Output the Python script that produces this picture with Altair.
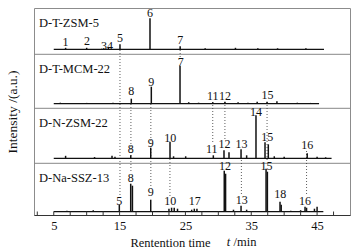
import altair as alt
import pandas as pd

# ---------------- data ----------------
PANELS = ["D-T-ZSM-5", "D-T-MCM-22", "D-N-ZSM-22", "D-Na-SSZ-13"]

# peak retention times (min) and heights (a.u.) per sample
ZSM5_T = [6.8, 10.0, 12.6, 13.3, 15.06, 19.62, 24.2, 28.0, 32.6, 36.0, 39.0, 43.3]
ZSM5_H = [1.5, 1.5, 1.0, 1.5, 5.0, 31.0, 3.0, 1.0, 1.5, 1.0, 1.0, 1.0]

MCM22_T = [6.0, 10.0, 14.0, 16.78, 19.82, 24.18, 25.5, 27.0, 29.15, 31.0, 33.0, 34.5,
           35.9, 37.4, 38.9, 42.0, 44.0]
MCM22_H = [1.0, 0.8, 1.0, 5.0, 17.0, 38.0, 1.5, 1.0, 1.5, 2.0, 1.5, 1.0,
           2.0, 2.0, 2.5, 1.0, 0.8]

NZSM22_T = [6.8, 11.2, 13.85, 14.3, 16.7, 19.73, 22.66, 23.2, 25.04, 29.24, 30.86, 31.62,
            33.45, 34.3, 35.72, 37.09, 37.59, 38.5, 40.0, 43.5, 45.0, 46.3]
NZSM22_H = [2.5, 1.2, 2.5, 1.5, 3.0, 10.6, 16.6, 2.0, 2.0, 3.0, 8.0, 6.0,
            9.0, 3.0, 43.0, 16.0, 14.0, 2.0, 1.5, 5.0, 1.5, 1.0]

SSZ13_T = [7.0, 11.0, 14.96, 16.69, 16.95, 19.73, 22.5, 22.9, 23.3, 23.8, 25.95, 26.35,
           26.75, 30.9, 31.1, 32.3, 33.45, 34.3, 37.25, 37.45, 39.37, 39.55, 41.0, 42.5,
           43.17, 43.4, 44.6, 45.0]
SSZ13_H = [1.0, 1.5, 7.0, 28.0, 26.0, 12.0, 3.0, 4.0, 4.0, 3.0, 2.0, 3.0,
           3.0, 41.0, 38.0, 2.0, 6.0, 2.0, 43.0, 40.0, 10.0, 7.0, 1.0, 1.5,
           5.0, 4.0, 3.0, 5.0]

RUN_START = [5.0, 5.0, 5.0, 5.0]
RUN_END = [46.05, 45.3, 47.2, 45.95]

# peak number labels: (text, time, level above baseline)
LAB_ZSM5 = [("1", 6.8, 7.3), ("2", 10.05, 8.0), ("34", 13.1, 3.5), ("5", 15.06, 11.0),
            ("6", 19.62, 36.5), ("7", 24.2, 9.8)]
LAB_MCM22 = [("8", 16.76, 13.2), ("9", 19.8, 21.5), ("7", 24.28, 42.0), ("11", 29.16, 8.0),
             ("12", 31.0, 8.0), ("15", 37.47, 8.4)]
LAB_NZSM22 = [("8", 16.7, 9.5), ("9", 19.75, 15.5), ("10", 22.7, 20.5), ("11", 29.0, 9.6),
              ("12", 30.94, 14.1), ("13", 33.5, 14.1), ("14", 35.72, 46.6), ("15", 37.42, 21.1),
              ("16", 43.5, 13.3)]
LAB_SSZ13 = [("5", 14.94, 10.3), ("8", 16.7, 33.7), ("9", 19.75, 20.0), ("10", 22.7, 10.3),
             ("17", 26.4, 10.7), ("12", 31.0, 45.3), ("13", 33.57, 11.5), ("15", 37.3, 45.3),
             ("18", 39.4, 17.8), ("16", 43.17, 10.7)]

# dotted guide lines: time, upper end, lower end (in stacked intensity units)
GUIDE_T = [15.06, 24.2, 16.72, 19.75, 22.65, 29.15, 31.0, 33.5, 37.4, 43.4]
GUIDE_TOP = [165.0, 165.0, 111.0, 111.0, 56.0, 113.0, 113.0, 55.0, 113.0, 64.0]
GUIDE_BOT = [18.0, 158.0, 42.0, 28.0, 19.0, 72.0, 76.0, 20.0, 55.0, 19.0]

X_TICK_LABELS = [5, 10, 15, 20, 25, 30, 35, 40, 45, 50]
X_MINOR = [2.5, 5, 7.5, 10, 12.5, 15, 17.5, 20, 22.5, 25, 27.5, 30, 32.5, 35, 37.5,
           40, 42.5, 45, 47.5]

# ---------------- layout constants ----------------
W, H = 316, 207
BASE = [165.7, 111.3, 56.7, 3.3]       # baseline of each stacked trace
PANEL_TOP = [207.0, 160.7, 106.7, 51.7]
SEPS = [160.7, 106.7, 51.7]
FONT = "Liberation Serif, Times New Roman, DejaVu Serif, serif"
INK = "#111111"

series = [(ZSM5_T, ZSM5_H), (MCM22_T, MCM22_H), (NZSM22_T, NZSM22_H), (SSZ13_T, SSZ13_H)]
labels = [LAB_ZSM5, LAB_MCM22, LAB_NZSM22, LAB_SSZ13]

peak_rows, base_rows, lab_rows, name_rows = [], [], [], []
for i, name in enumerate(PANELS):
    ts, hs = series[i]
    for t, h in zip(ts, hs):
        peak_rows.append({"t": t, "y0": BASE[i], "y1": BASE[i] + h})
    base_rows.append({"t0": RUN_START[i], "t1": RUN_END[i], "y": BASE[i]})
    for txt, t, lev in labels[i]:
        lab_rows.append({"txt": txt, "t": t, "y": BASE[i] + lev})
    name_rows.append({"name": name, "y": PANEL_TOP[i] - 15})

peaks = pd.DataFrame(peak_rows)
bases = pd.DataFrame(base_rows)
labs = pd.DataFrame(lab_rows)
names = pd.DataFrame(name_rows)
guides = pd.DataFrame({"t": GUIDE_T, "y0": GUIDE_TOP, "y1": GUIDE_BOT})
seps = pd.DataFrame({"y": SEPS})
ticks = pd.DataFrame({"t": X_MINOR, "y0": [0.0] * len(X_MINOR), "y1": [3.5] * len(X_MINOR)})

xs = alt.Scale(domain=[2, 50], nice=False, zero=False)
ys = alt.Scale(domain=[0, H], nice=False, zero=False)

xaxis = alt.Axis(values=X_TICK_LABELS, ticks=False, grid=False, domainColor="#333333",
                 labelFont=FONT, labelFontSize=12.5, labelColor=INK, labelPadding=4,
                 title="Rentention time", titleFont=FONT, titleFontSize=12.5,
                 titleFontWeight="normal", titleColor=INK, titleX=136, titleY=27,
                 titleBaseline="middle", titleAlign="center")
yaxis = alt.Axis(labels=False, ticks=False, grid=False, domain=False,
                 title="Intensity /(a.u.)", titleFont=FONT, titleFontSize=13.5,
                 titleFontWeight="normal", titleColor=INK, titleX=-22, titleY=H / 2,
                 titleAngle=270, titleBaseline="middle", titleAlign="center")

base_line = alt.Chart(bases).mark_rule(color=INK, strokeWidth=1.2).encode(
    x=alt.X("t0:Q", scale=xs, axis=xaxis), x2="t1:Q",
    y=alt.Y("y:Q", scale=ys, axis=yaxis))

peak_marks = alt.Chart(peaks).mark_rule(color=INK, strokeWidth=1.5).encode(
    x=alt.X("t:Q", scale=xs), y=alt.Y("y0:Q", scale=ys), y2="y1:Q")

sep_marks = alt.Chart(seps).mark_rule(color="#888888", strokeWidth=1).encode(
    y=alt.Y("y:Q", scale=ys))

guide_marks = alt.Chart(guides).mark_rule(color="#333333", strokeWidth=0.8,
                                          strokeDash=[1, 2]).encode(
    x=alt.X("t:Q", scale=xs), y=alt.Y("y0:Q", scale=ys), y2="y1:Q")

tick_marks = alt.Chart(ticks).mark_rule(color="#333333", strokeWidth=1).encode(
    x=alt.X("t:Q", scale=xs), y=alt.Y("y0:Q", scale=ys), y2="y1:Q")

lab_marks = alt.Chart(labs).mark_text(font=FONT, fontSize=12, color=INK,
                                      baseline="middle", align="center").encode(
    x=alt.X("t:Q", scale=xs), y=alt.Y("y:Q", scale=ys), text="txt:N")

name_marks = alt.Chart(names).mark_text(font=FONT, fontSize=12.5, color=INK,
                                        baseline="middle", align="left").encode(
    x=alt.value(5), y=alt.Y("y:Q", scale=ys), text="name:N")

one = pd.DataFrame({"a": [0]})
t_ital = alt.Chart(one).mark_text(font=FONT, fontSize=12.5, fontStyle="italic", color=INK,
                                  baseline="middle", align="center", text="t").encode(
    x=alt.value(194.5), y=alt.value(234))
t_min = alt.Chart(one).mark_text(font=FONT, fontSize=12.5, color=INK,
                                 baseline="middle", align="left", text="/min").encode(
    x=alt.value(199.5), y=alt.value(234))

chart = alt.layer(
    sep_marks, guide_marks, base_line, peak_marks, tick_marks, lab_marks, name_marks,
    t_ital, t_min
).properties(
    width=W, height=H,
    autosize=alt.AutoSizeParams(type="none"),
    padding={"left": 34, "top": 8, "right": 14, "bottom": 36},
).configure_view(stroke="#8c8c8c", strokeWidth=1)

chart.save("out.html", embed_options={"renderer": "svg", "actions": False})
